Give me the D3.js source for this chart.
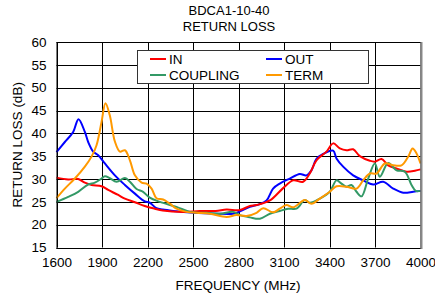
<!DOCTYPE html>
<html>
<head>
<meta charset="utf-8">
<script src="https://cdn.jsdelivr.net/npm/d3@7"></script>
<style>
  body { margin: 0; background: #fff; }
  text { font-family: Arial, "Liberation Sans", sans-serif; fill: #000; }
</style>
</head>
<body>
<svg id="chart"></svg>
<script>
// values: [frequency MHz, return loss dB]
const inData = [
  [1600, 30.3], [1677, 29.9], [1743, 30.0], [1787, 29.2], [1831, 28.7], [1897, 28.4],
  [1941, 27.6], [2007, 26.5], [2051, 25.7], [2117, 24.9], [2182, 24.1], [2248, 23.5],
  [2300, 23.1], [2435, 22.8], [2545, 23.0], [2650, 23.0], [2721, 23.3], [2809, 23.2],
  [2875, 24.1], [2919, 24.3], [3007, 25.3], [3094, 28.0], [3160, 29.7], [3226, 29.4],
  [3270, 31.2], [3314, 34.1], [3380, 36.0], [3424, 37.8], [3468, 36.7], [3512, 36.3],
  [3556, 36.5], [3600, 35.0], [3666, 34.0], [3699, 33.8], [3743, 34.4], [3787, 33.0],
  [3842, 32.3], [3908, 31.6], [3963, 31.8], [4000, 32.1]
];
const outData = [
  [1600, 35.9], [1655, 38.1], [1710, 40.3], [1745, 43.1], [1787, 40.3], [1809, 38.1],
  [1842, 36.0], [1875, 35.2], [1919, 33.4], [1985, 30.8], [2051, 28.7], [2117, 26.8],
  [2182, 25.1], [2215, 24.8], [2259, 23.6], [2300, 23.3], [2369, 23.0], [2501, 22.6],
  [2655, 22.4], [2765, 22.4], [2809, 22.9], [2875, 23.9], [2940, 24.5], [2985, 25.3],
  [3028, 27.9], [3072, 29.0], [3138, 30.1], [3204, 31.1], [3248, 30.8], [3281, 31.9],
  [3314, 34.4], [3358, 35.5], [3424, 36.2], [3446, 34.5], [3490, 32.7], [3556, 30.8],
  [3622, 29.7], [3688, 28.8], [3754, 29.4], [3820, 27.9], [3886, 27.0], [3952, 27.2],
  [4000, 27.4]
];
const couplingData = [
  [1600, 25.0], [1677, 26.1], [1743, 27.2], [1809, 28.8], [1853, 29.2], [1897, 30.1],
  [1919, 30.6], [1951, 30.2], [1996, 29.4], [2051, 30.2], [2084, 29.4], [2128, 27.8],
  [2171, 27.2], [2215, 25.9], [2281, 25.0], [2391, 23.9], [2479, 22.8], [2589, 22.6],
  [2677, 22.4], [2765, 22.8], [2809, 22.1], [2875, 21.6], [2941, 21.3], [3007, 22.4],
  [3072, 23.0], [3127, 23.5], [3182, 23.5], [3237, 25.4], [3270, 24.8], [3336, 25.7],
  [3402, 27.2], [3446, 29.7], [3479, 29.0], [3512, 28.3], [3545, 28.7], [3578, 27.2],
  [3611, 26.2], [3655, 30.1], [3699, 33.4], [3732, 30.5], [3787, 33.5], [3842, 31.9],
  [3897, 31.6], [3941, 28.7], [3969, 27.4], [4000, 27.4]
];
const termData = [
  [1600, 25.8], [1655, 27.9], [1721, 30.1], [1787, 32.7], [1831, 34.9], [1864, 37.4],
  [1897, 42.5], [1923, 46.6], [1951, 44.0], [1985, 38.2], [2018, 36.0], [2051, 36.3],
  [2084, 34.1], [2117, 30.8], [2161, 29.2], [2194, 29.0], [2227, 27.9], [2259, 25.8],
  [2303, 25.5], [2347, 24.6], [2391, 23.5], [2457, 22.8], [2523, 22.6], [2611, 22.4],
  [2721, 21.7], [2787, 22.1], [2853, 21.9], [2919, 22.6], [2963, 23.6], [3028, 22.7],
  [3072, 23.5], [3116, 24.3], [3160, 23.8], [3237, 25.4], [3281, 24.6], [3336, 25.7],
  [3402, 27.2], [3446, 28.4], [3512, 28.3], [3578, 27.9], [3622, 29.7], [3666, 31.2],
  [3710, 31.2], [3765, 33.4], [3820, 33.0], [3875, 33.0], [3919, 34.9], [3948, 36.7],
  [3974, 35.6], [4000, 33.4]
];

const xTicks = [1600, 1900, 2200, 2500, 2800, 3100, 3400, 3700, 4000];
const yTicks = [15, 20, 25, 30, 35, 40, 45, 50, 55, 60];
const titleLines = ["BDCA1-10-40", "RETURN LOSS"];

const seriesList = [
  { name: "OUT", data: outData, color: "#0000ff" },
  { name: "IN", data: inData, color: "#ff0000" },
  { name: "COUPLING", data: couplingData, color: "#339966" },
  { name: "TERM", data: termData, color: "#ff9900" }
];

const width = 435;
const height = 294;
const margin = { top: 42, right: 14.5, bottom: 46.5, left: 56.5 };

const svg = d3.select("#chart").attr("width", width).attr("height", height);

const x = d3
  .scaleLinear()
  .domain([1600, 4000])
  .range([margin.left, width - margin.right]);

const y = d3
  .scaleLinear()
  .domain([15, 60])
  .range([height - margin.bottom, margin.top]);

// grid
svg
  .append("g")
  .selectAll("line")
  .data(yTicks)
  .join("line")
  .attr("x1", margin.left)
  .attr("x2", width - margin.right)
  .attr("y1", (d) => Math.round(y(d)) + 0.5)
  .attr("y2", (d) => Math.round(y(d)) + 0.5)
  .attr("stroke", "#000")
  .attr("stroke-width", 1);

svg
  .append("g")
  .selectAll("line")
  .data(xTicks)
  .join("line")
  .attr("x1", (d) => Math.round(x(d)) + 0.5)
  .attr("x2", (d) => Math.round(x(d)) + 0.5)
  .attr("y1", margin.top)
  .attr("y2", height - margin.bottom)
  .attr("stroke", "#000")
  .attr("stroke-width", 1);

// axes (labels only)
const yAxis = svg
  .append("g")
  .attr("transform", `translate(${margin.left - 10},0)`)
  .call(d3.axisLeft(y).tickValues(yTicks).tickSize(0).tickPadding(0));
yAxis.select(".domain").remove();
yAxis.selectAll("text").attr("font-size", 13.5).attr("font-family", "Arial, 'Liberation Sans', sans-serif");

const xAxis = svg
  .append("g")
  .attr("transform", `translate(0,${height - margin.bottom + 10})`)
  .call(d3.axisBottom(x).tickValues(xTicks).tickSize(0).tickPadding(0).tickFormat(d3.format("d")));
xAxis.select(".domain").remove();
xAxis.selectAll("text").attr("font-size", 13.5).attr("font-family", "Arial, 'Liberation Sans', sans-serif");

// curves
const line = d3
  .line()
  .x((d) => x(d[0]))
  .y((d) => y(d[1]))
  .curve(d3.curveCatmullRom.alpha(0.5));

svg
  .append("g")
  .selectAll("path")
  .data(seriesList)
  .join("path")
  .attr("d", (d) => line(d.data))
  .attr("fill", "none")
  .attr("stroke", (d) => d.color)
  .attr("stroke-width", 2)
  .attr("stroke-linejoin", "round");

// legend
const legendX = 137;
const legendY = 50;
svg
  .append("rect")
  .attr("x", legendX + 0.5)
  .attr("y", legendY + 0.5)
  .attr("width", 231)
  .attr("height", 33)
  .attr("fill", "#fff")
  .attr("stroke", "#333")
  .attr("stroke-width", 1);

const legendOrder = ["IN", "OUT", "COUPLING", "TERM"];
const legendItems = svg
  .append("g")
  .selectAll("g")
  .data(legendOrder.map((n) => seriesList.find((s) => s.name === n)))
  .join("g")
  .attr("transform", (d, i) => `translate(${legendX + 13 + (i % 2) * 116},${legendY + 9 + Math.floor(i / 2) * 16})`);

legendItems
  .append("line")
  .attr("x1", 0)
  .attr("x2", 16)
  .attr("stroke", (d) => d.color)
  .attr("stroke-width", 2);

legendItems
  .append("text")
  .attr("x", 19)
  .attr("y", 5)
  .attr("font-size", 13.5)
  .text((d) => d.name);

// plot frame, right edge is a grey double-width line in the original
const frameW = Math.round(width - margin.right - margin.left);
const frameH = Math.round(height - margin.bottom - margin.top);
svg
  .append("rect")
  .attr("x", margin.left + 0.5)
  .attr("y", margin.top + 0.5)
  .attr("width", frameW)
  .attr("height", frameH)
  .attr("fill", "none")
  .attr("stroke", "#000")
  .attr("stroke-width", 1);

svg
  .append("line")
  .attr("x1", margin.left + frameW + 1)
  .attr("x2", margin.left + frameW + 1)
  .attr("y1", margin.top)
  .attr("y2", margin.top + frameH + 1)
  .attr("stroke", "#888")
  .attr("stroke-width", 2);

// titles
svg
  .selectAll(".title")
  .data(titleLines)
  .join("text")
  .attr("class", "title")
  .attr("x", 229)
  .attr("y", (d, i) => 15 + i * 15.5)
  .attr("text-anchor", "middle")
  .attr("font-size", 13)
  .text((d) => d);

svg
  .append("text")
  .attr("x", 238)
  .attr("y", 290)
  .attr("text-anchor", "middle")
  .attr("font-size", 13.5)
  .text("FREQUENCY (MHz)");

svg
  .append("text")
  .attr("transform", `translate(22,${(margin.top + height - margin.bottom) / 2}) rotate(-90)`)
  .attr("text-anchor", "middle")
  .attr("font-size", 13.5)
  .text("RETURN LOSS (dB)");
</script>
</body>
</html>
